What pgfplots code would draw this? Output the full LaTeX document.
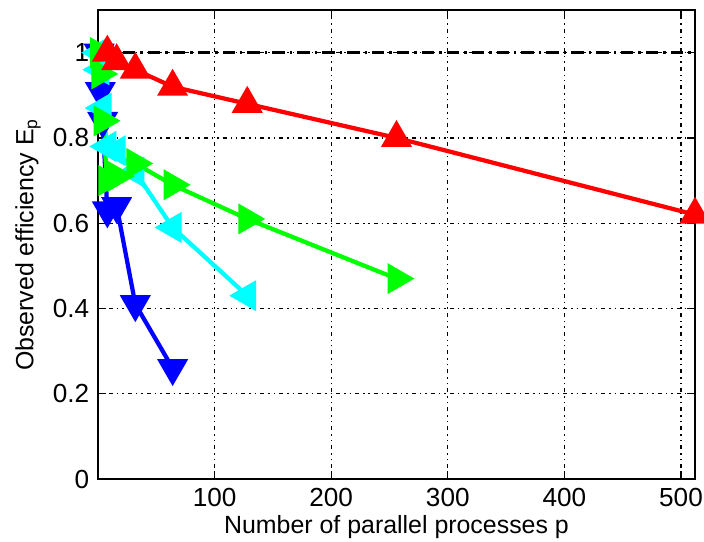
\documentclass[border=0pt]{standalone}
\usepackage{pgfplots}
\pgfplotsset{compat=1.18}
\usepackage{fontspec}
\setmainfont{Liberation Sans}
\definecolor{mred}{rgb}{1,0,0}
\definecolor{mgreen}{rgb}{0,1,0}
\definecolor{mcyan}{rgb}{0,1,1}
\definecolor{mblue}{rgb}{0,0,1}
\begin{document}
\begin{tikzpicture}
\path[use as bounding box] (-39.2bp,-25.2bp) rectangle (242.4bp,191.6bp);
\begin{axis}[
  at={(0,0)}, anchor=south west,
  scale only axis,
  width=238.8bp, height=187.6bp,
  xmin=0, xmax=512, ymin=0, ymax=1.1,
  xtick={100,200,300,400,500},
  ytick={0,0.2,0.4,0.6,0.8,1},
  yticklabels={0,0.2,0.4,0.6,0.8,1},
  /pgf/number format/assume math mode=true,
  tick label style={font=\fontsize{10.5}{12}\selectfont},
  label style={font=\fontsize{10}{12}\selectfont},
  xlabel={Number of parallel processes p},
  ylabel={Observed efficiency E\textsubscript{p}},
  xlabel style={yshift=3bp},
  ylabel style={yshift=-2bp},
  grid=major,
  major grid style={black, line width=0.5pt, dash pattern=on 0.6pt off 1.6pt on 0.6pt off 1.6pt on 1.6pt off 1.6pt},
  major tick length=3.3bp,
  tick style={black, line width=0.5pt},
  axis line style={black, line width=0.6pt},
  clip=false,
]
\addplot[black, line width=1pt, dash pattern=on 5pt off 2pt on 1pt off 2pt] coordinates {(0,1) (512,1)};
\addplot[mblue, line width=1.7bp, mark=triangle*, mark size=5.5pt, mark options={solid, fill=mblue, rotate=180}] coordinates {
(1,1.00) (2,0.91) (4,0.84) (8,0.63) (16,0.64) (32,0.41) (64,0.26)};
\addplot[mcyan, line width=1.7bp, mark=triangle*, mark size=5.5pt, mark options={solid, fill=mcyan, rotate=90}] coordinates {
(1,1.00) (2,0.96) (4,0.87) (8,0.78) (16,0.77) (32,0.72) (64,0.59) (128,0.43)};
\addplot[mgreen, line width=1.7bp, mark=triangle*, mark size=5.5pt, mark options={solid, fill=mgreen, rotate=-90}] coordinates {
(1,1.00) (2,0.95) (4,0.84) (8,0.70) (16,0.71) (32,0.74) (64,0.69) (128,0.61) (256,0.47)};
\addplot[mred, line width=1.7bp, mark=triangle*, mark size=5.5pt, mark options={solid, fill=mred}] coordinates {
(8,1.00) (16,0.98) (32,0.96) (64,0.92) (128,0.88) (256,0.80) (512,0.62)};
\end{axis}
\end{tikzpicture}
\end{document}
